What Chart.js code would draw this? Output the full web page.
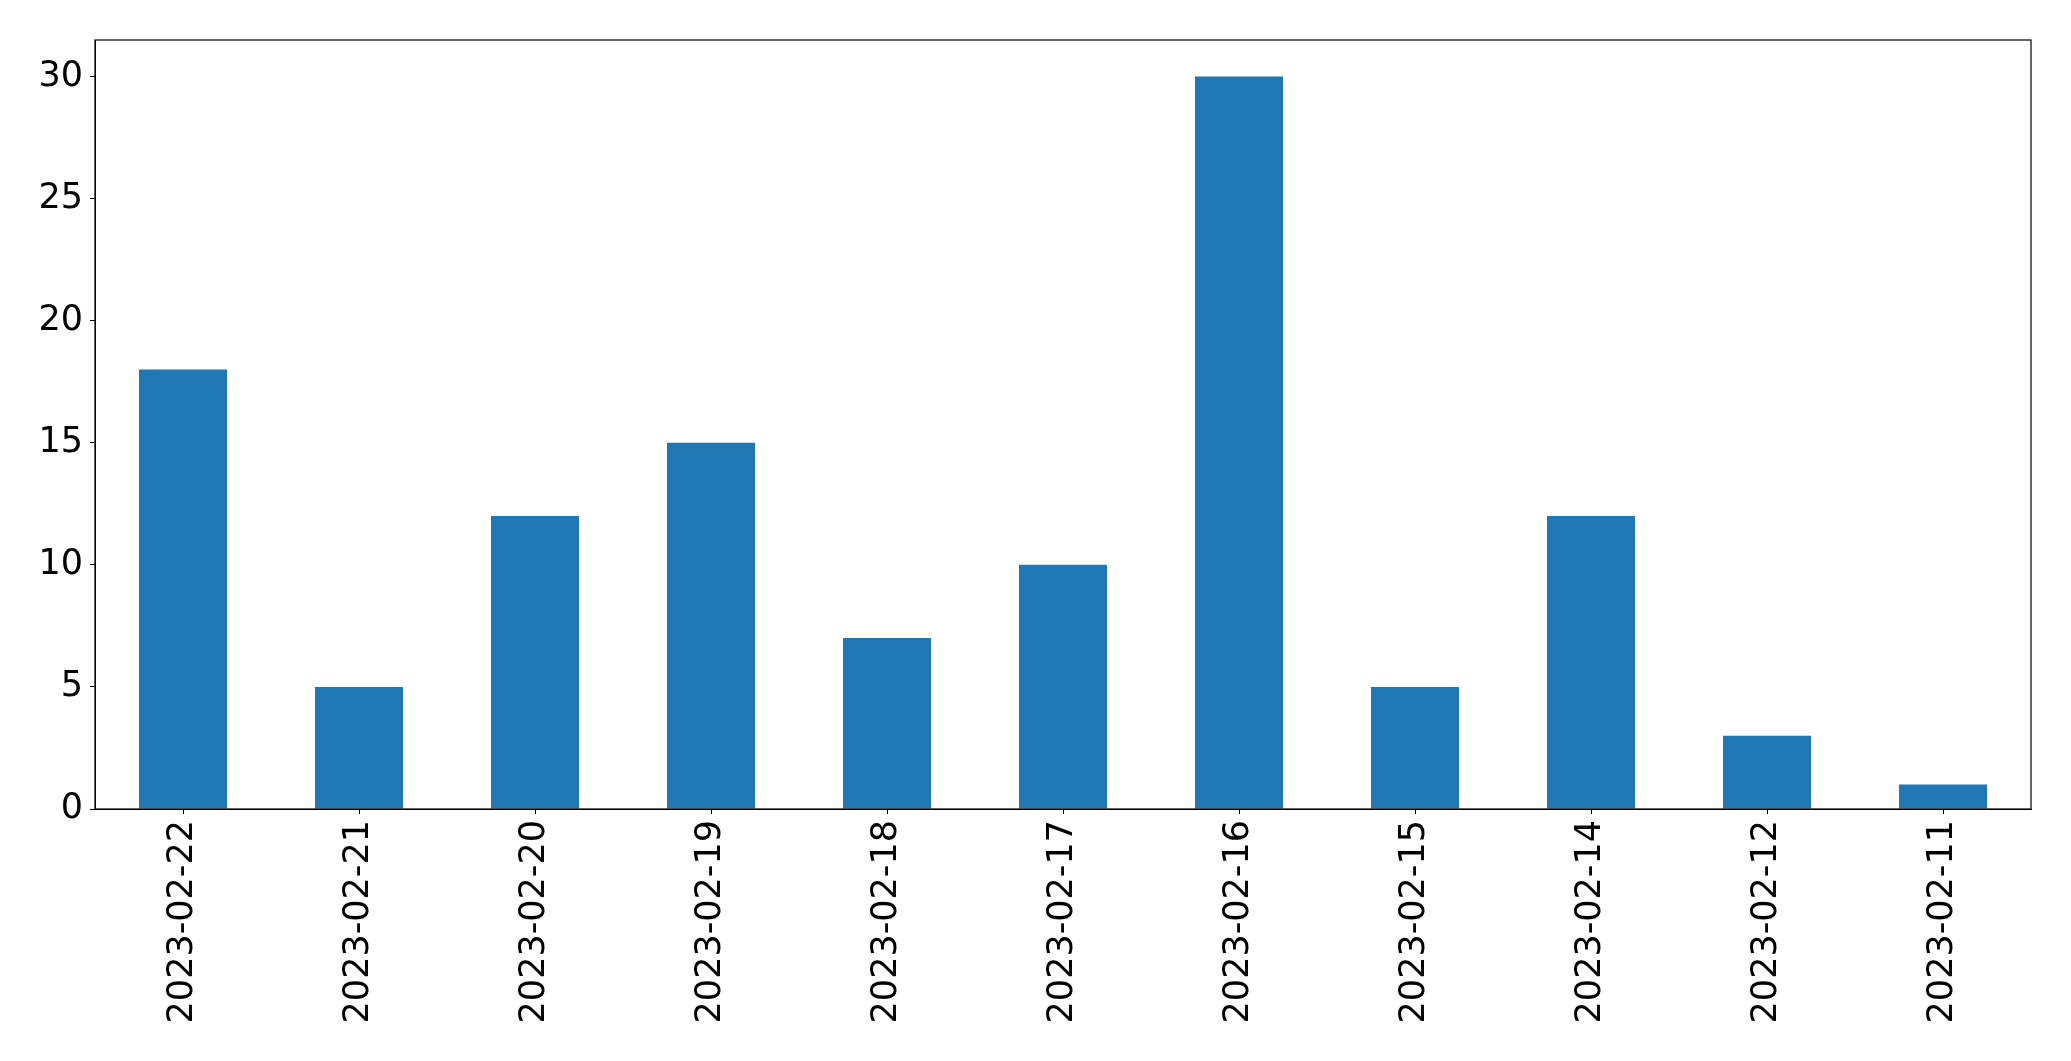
<!DOCTYPE html>
<html>
<head>
<meta charset="utf-8">
<script src="https://cdn.jsdelivr.net/npm/chart.js@4/dist/chart.umd.min.js"></script>
<style>
  html, body { margin: 0; padding: 0; background: #fff; }
  canvas { display: block; }
</style>
</head>
<body>
<canvas id="chart" width="2071" height="1061"></canvas>
<script>
const dates = ['2023-02-22', '2023-02-21', '2023-02-20', '2023-02-19', '2023-02-18', '2023-02-17',
    '2023-02-16', '2023-02-15', '2023-02-14', '2023-02-12', '2023-02-11'];
const counts = [18, 5, 12, 15, 7, 10, 30, 5, 12, 3, 1];
const yTicks = [0, 5, 10, 15, 20, 25, 30];

// box around the plot area, like matplotlib spines
const frame = {
    id: 'frame',
    afterDraw(chart) {
        const { ctx, chartArea: a } = chart;
        ctx.save();
        ctx.strokeStyle = '#000';
        ctx.lineWidth = 1.2;
        ctx.strokeRect(a.left, a.top, a.right - a.left, a.bottom - a.top);
        ctx.restore();
    }
};

Chart.defaults.font.family = "'DejaVu Sans', sans-serif";
Chart.defaults.color = '#000';

new Chart(document.getElementById('chart'), {
    type: 'bar',
    data: {
        labels: dates,
        datasets: [{
            data: counts,
            backgroundColor: '#1f77b4',
            borderWidth: 0,
            barPercentage: 0.5,
            categoryPercentage: 1.0
        }]
    },
    options: {
        responsive: false,
        animation: false,
        layout: { padding: { top: 40, right: 40, left: 0, bottom: 0 } },
        plugins: { legend: { display: false }, tooltip: { enabled: false } },
        scales: {
            x: {
                grid: { display: true, offset: false, drawOnChartArea: false, drawTicks: true, tickLength: 5, color: '#000' },
                border: { display: true, color: '#000' },
                ticks: { font: { size: 35 }, minRotation: 90, maxRotation: 90, padding: 6 },
                afterFit(axis) { axis.height = 252; }
            },
            y: {
                min: 0,
                max: 31.5,
                afterBuildTicks(axis) { axis.ticks = yTicks.map(v => ({ value: v })); },
                grid: { display: true, drawOnChartArea: false, drawTicks: true, tickLength: 5, color: '#000' },
                border: { display: true, color: '#000' },
                ticks: { font: { size: 35 }, padding: 7 },
                afterFit(axis) { axis.width = 95; }
            }
        }
    },
    plugins: [frame]
});
</script>
</body>
</html>
